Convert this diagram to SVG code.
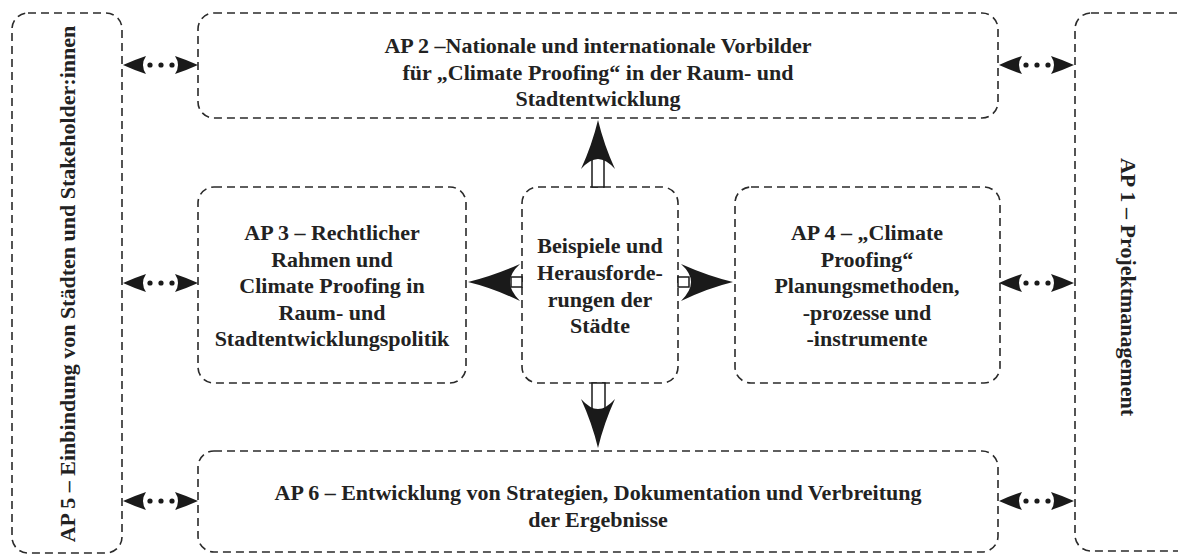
<svg xmlns="http://www.w3.org/2000/svg" width="1178" height="554" viewBox="0 0 1178 554">
<defs>
<style>
.box{fill:none;stroke:#2a2a2a;stroke-width:1.6;stroke-dasharray:8 5}
.t{font-family:"Liberation Serif","Times New Roman",serif;font-weight:bold;font-size:22px;fill:#222;text-anchor:middle}
.head{fill:#1a1a1a;stroke:none}
.dot{fill:#1a1a1a}
.shaft{fill:#fff;stroke:#1a1a1a;stroke-width:1.5}
</style>
<g id="dbl">
<path class="head" d="M0,0 Q11,-5 23,-9 Q17,0 23,9 Q11,5 0,0 Z"/>
<path class="head" d="M75,0 Q64,-5 52,-9 Q58,0 52,9 Q64,5 75,0 Z"/>
<circle class="dot" cx="27" cy="0" r="2.6"/>
<circle class="dot" cx="38" cy="0" r="2.6"/>
<circle class="dot" cx="49" cy="0" r="2.6"/>
</g>
</defs>
<rect width="1178" height="554" fill="#fff"/>

<g id="ap5">
<rect class="box" x="12" y="13" width="110" height="540" rx="16"/>
<text class="t" transform="translate(74.5,284) rotate(-90)">AP 5 – Einbindung von Städten und Stakeholder:innen</text>
</g>
<g id="ap1">
<rect class="box" x="1075" y="13" width="150" height="538" rx="16"/>
<text class="t" transform="translate(1120.5,287) rotate(90)">AP 1 – Projektmanagement</text>
</g>
<g id="ap2">
<rect class="box" x="198" y="13" width="800" height="105" rx="16"/>
<text class="t" x="598" y="53">AP 2 –Nationale und internationale Vorbilder</text>
<text class="t" x="598" y="79.5">für „Climate Proofing“ in der Raum- und</text>
<text class="t" x="598" y="106">Stadtentwicklung</text>
</g>
<g id="ap3">
<rect class="box" x="198" y="187" width="268" height="196" rx="16"/>
<text class="t" x="332" y="240">AP 3 – Rechtlicher</text>
<text class="t" x="332" y="266.5">Rahmen und</text>
<text class="t" x="332" y="293">Climate Proofing in</text>
<text class="t" x="332" y="319.5">Raum- und</text>
<text class="t" x="332" y="346">Stadtentwicklungspolitik</text>
</g>
<g id="center">
<rect class="box" x="522" y="187" width="156" height="196" rx="16"/>
<text class="t" x="600" y="253">Beispiele und</text>
<text class="t" x="600" y="280">Herausforde-</text>
<text class="t" x="600" y="306.5">rungen der</text>
<text class="t" x="600" y="333">Städte</text>
</g>
<g id="ap4">
<rect class="box" x="735" y="187" width="265" height="196" rx="16"/>
<text class="t" x="867" y="240">AP 4 – „Climate</text>
<text class="t" x="867" y="266.5">Proofing“</text>
<text class="t" x="867" y="293">Planungsmethoden,</text>
<text class="t" x="867" y="319.5">-prozesse und</text>
<text class="t" x="867" y="346">-instrumente</text>
</g>
<g id="ap6">
<rect class="box" x="198" y="451" width="800" height="101" rx="16"/>
<text class="t" x="598" y="500">AP 6 – Entwicklung von Strategien, Dokumentation und Verbreitung</text>
<text class="t" x="598" y="527">der Ergebnisse</text>
</g>

<g id="connectors">
<use href="#dbl" x="123" y="65"/>
<use href="#dbl" x="123" y="283"/>
<use href="#dbl" x="123" y="501"/>
<use href="#dbl" x="999" y="65"/>
<use href="#dbl" x="999" y="283"/>
<use href="#dbl" x="999" y="501"/>

<rect class="shaft" x="592" y="158" width="12" height="29"/>
<path class="head" d="M598,120 Q604,145 615,169 Q606,159 598,159 Q590,159 581,169 Q592,145 598,120 Z"/>
<rect class="shaft" x="592" y="383" width="13" height="28"/>
<path class="head" d="M598,448 Q604,423 615,399 Q606,409 598,409 Q590,409 581,399 Q592,423 598,448 Z"/>
<rect class="shaft" x="511" y="277" width="11" height="10"/>
<path class="head" d="M468,282 Q493,276 520,264 Q510,273 510,282 Q510,291 520,301 Q493,288 468,282 Z"/>
<rect class="shaft" x="678" y="277" width="11" height="10"/>
<path class="head" d="M733,282 Q708,276 681,264 Q691,273 691,282 Q691,291 681,301 Q708,288 733,282 Z"/>
</g>
</svg>
